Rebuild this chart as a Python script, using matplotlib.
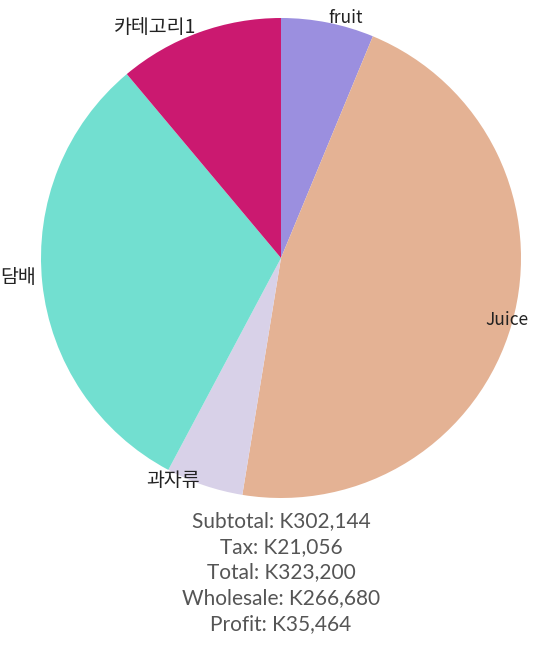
import matplotlib.pyplot as plt

plt.rcParams['font.family'] = ['Noto Sans CJK KR', 'DejaVu Sans']

# data
labels = ["fruit", "Juice", "과자류", "담배", "카테고리1"]
shares = [6.25, 46.3, 5.2, 31.1, 11.1]
colors = ['#9b8fdf', '#e4b294', '#d8d1e8', '#72dfd0', '#cb1970']
summary = ["Subtotal: K302,144", "Tax: K21,056", "Total: K323,200",
           "Wholesale: K266,680", "Profit: K35,464"]

# label spots (pie radius units)
label_pos = [(0.27, 1.0), (0.942, -0.258), (-0.45, -0.925),
             (-1.096, -0.083), (-0.525, 0.962)]
label_size = [12.5, 12.5, 14, 14, 14]

W, H = 557, 648
fig = plt.figure(figsize=(W / 100, H / 100), dpi=100)
ax = fig.add_axes([41 / W, 150 / H, 480 / W, 480 / H])

ax.pie(shares, colors=colors, startangle=90, counterclock=False,
       radius=1, wedgeprops=dict(linewidth=0))
for lab, (lx, ly), fs in zip(labels, label_pos, label_size):
    ax.text(lx, ly, lab, ha='center', va='center', fontsize=fs, color='#222222')

ax.set_xlim(-1, 1)
ax.set_ylim(-1, 1)
ax.set_aspect('equal')
ax.axis('off')

for i, line in enumerate(summary):
    fig.text(281 / W, 1 - (521 + i * 25.7) / H, line, ha='center', va='center',
             fontsize=15, color='#555555', family=['Lato', 'DejaVu Sans'])

fig.savefig("out.png", dpi=100)
